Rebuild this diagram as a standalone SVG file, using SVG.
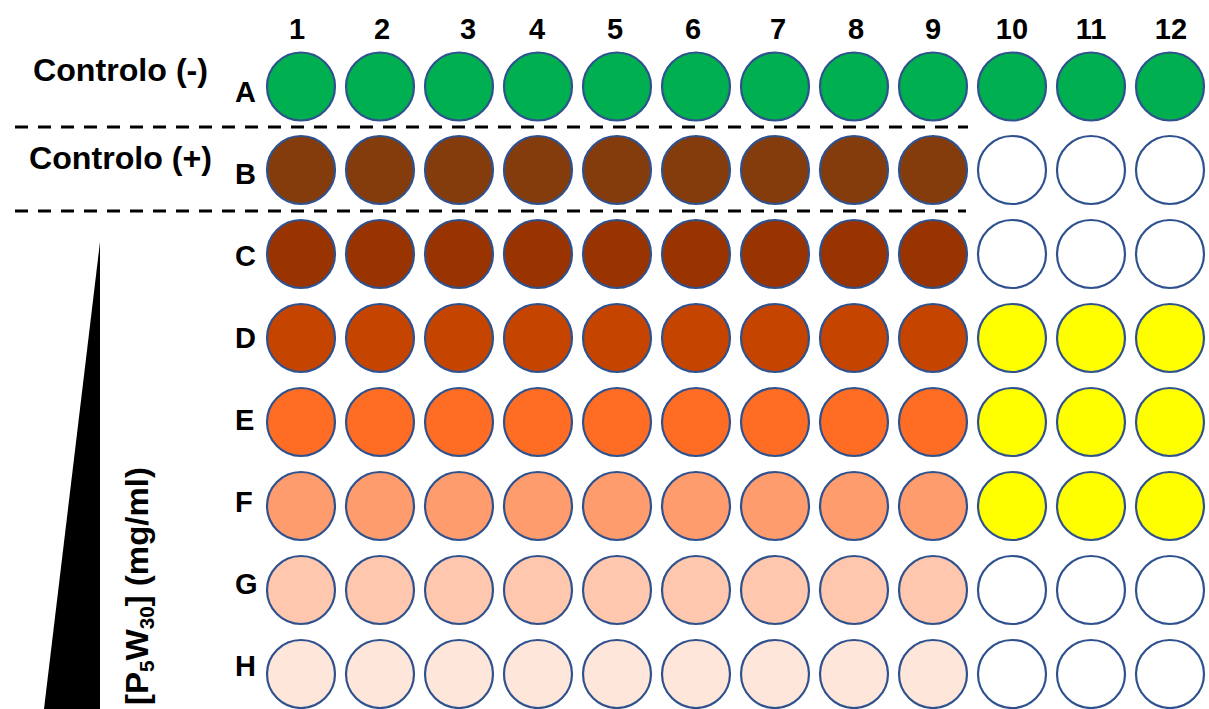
<svg xmlns="http://www.w3.org/2000/svg" width="1209" height="709" viewBox="0 0 1209 709">
<style>
text{font-family:"Liberation Sans",Arial,sans-serif;font-weight:bold;fill:#000}
.col{font-size:29px;text-anchor:middle}
.row{font-size:29px}
.ctl{font-size:32px}
circle{stroke:#2F528F;stroke-width:2.2}
.g{fill:#00B050}.b{fill:#843C0C}.c{fill:#993300}.d{fill:#C44400}.e{fill:#FF6D24}.f{fill:#FF9C6E}.gg{fill:#FFC8AE}.h{fill:#FFE6DA}.y{fill:#FFFF00}.w{fill:#FFFFFF}
.dash{stroke:#000;stroke-width:3;stroke-dasharray:13 10;fill:none}
</style>
<rect width="1209" height="709" fill="#fff"/>
<g id="labels">
<text class="col" x="297" y="39">1</text>
<text class="col" x="382" y="39">2</text>
<text class="col" x="468" y="39">3</text>
<text class="col" x="537" y="39">4</text>
<text class="col" x="615" y="39">5</text>
<text class="col" x="693" y="39">6</text>
<text class="col" x="778" y="39">7</text>
<text class="col" x="856" y="39">8</text>
<text class="col" x="933" y="39">9</text>
<text class="col" x="1012" y="39">10</text>
<text class="col" x="1091" y="39">11</text>
<text class="col" x="1171" y="39">12</text>
<text class="row" x="235" y="102">A</text>
<text class="row" x="235" y="184">B</text>
<text class="row" x="235" y="266">C</text>
<text class="row" x="235" y="348">D</text>
<text class="row" x="235" y="430">E</text>
<text class="row" x="235" y="512">F</text>
<text class="row" x="235" y="594">G</text>
<text class="row" x="235" y="676">H</text>
<text class="ctl" x="33" y="81" textLength="175" lengthAdjust="spacingAndGlyphs">Controlo (-)</text>
<text class="ctl" x="29" y="169" textLength="183" lengthAdjust="spacingAndGlyphs">Controlo (+)</text>
<text class="ctl" transform="translate(148,705) rotate(-90)" textLength="238" lengthAdjust="spacingAndGlyphs">[P<tspan font-size="20" dy="6">5</tspan><tspan dy="-6">W</tspan><tspan font-size="20" dy="6">30</tspan><tspan dy="-6">] (mg/ml)</tspan></text>
</g>
<g id="wedge"><polygon points="100,242 100,709 44,709" fill="#000"/></g>
<g id="connectors">
<line class="dash" x1="15" y1="127" x2="968" y2="127"/>
<line class="dash" x1="15" y1="211" x2="966" y2="211"/>
</g>
<g id="rowA">
<circle class="g" cx="301" cy="86.5" r="34"/><circle class="g" cx="380" cy="86.5" r="34"/><circle class="g" cx="459" cy="86.5" r="34"/><circle class="g" cx="538" cy="86.5" r="34"/><circle class="g" cx="617" cy="86.5" r="34"/><circle class="g" cx="696" cy="86.5" r="34"/><circle class="g" cx="775" cy="86.5" r="34"/><circle class="g" cx="854" cy="86.5" r="34"/><circle class="g" cx="933" cy="86.5" r="34"/><circle class="g" cx="1012" cy="86.5" r="34"/><circle class="g" cx="1091" cy="86.5" r="34"/><circle class="g" cx="1170" cy="86.5" r="34"/>
</g>
<g id="rowB">
<circle class="b" cx="301" cy="170" r="34"/><circle class="b" cx="380" cy="170" r="34"/><circle class="b" cx="459" cy="170" r="34"/><circle class="b" cx="538" cy="170" r="34"/><circle class="b" cx="617" cy="170" r="34"/><circle class="b" cx="696" cy="170" r="34"/><circle class="b" cx="775" cy="170" r="34"/><circle class="b" cx="854" cy="170" r="34"/><circle class="b" cx="933" cy="170" r="34"/><circle class="w" cx="1012" cy="170" r="34"/><circle class="w" cx="1091" cy="170" r="34"/><circle class="w" cx="1170" cy="170" r="34"/>
</g>
<g id="rowC">
<circle class="c" cx="301" cy="254" r="34"/><circle class="c" cx="380" cy="254" r="34"/><circle class="c" cx="459" cy="254" r="34"/><circle class="c" cx="538" cy="254" r="34"/><circle class="c" cx="617" cy="254" r="34"/><circle class="c" cx="696" cy="254" r="34"/><circle class="c" cx="775" cy="254" r="34"/><circle class="c" cx="854" cy="254" r="34"/><circle class="c" cx="933" cy="254" r="34"/><circle class="w" cx="1012" cy="254" r="34"/><circle class="w" cx="1091" cy="254" r="34"/><circle class="w" cx="1170" cy="254" r="34"/>
</g>
<g id="rowD">
<circle class="d" cx="301" cy="338" r="34"/><circle class="d" cx="380" cy="338" r="34"/><circle class="d" cx="459" cy="338" r="34"/><circle class="d" cx="538" cy="338" r="34"/><circle class="d" cx="617" cy="338" r="34"/><circle class="d" cx="696" cy="338" r="34"/><circle class="d" cx="775" cy="338" r="34"/><circle class="d" cx="854" cy="338" r="34"/><circle class="d" cx="933" cy="338" r="34"/><circle class="y" cx="1012" cy="338" r="34"/><circle class="y" cx="1091" cy="338" r="34"/><circle class="y" cx="1170" cy="338" r="34"/>
</g>
<g id="rowE">
<circle class="e" cx="301" cy="422" r="34"/><circle class="e" cx="380" cy="422" r="34"/><circle class="e" cx="459" cy="422" r="34"/><circle class="e" cx="538" cy="422" r="34"/><circle class="e" cx="617" cy="422" r="34"/><circle class="e" cx="696" cy="422" r="34"/><circle class="e" cx="775" cy="422" r="34"/><circle class="e" cx="854" cy="422" r="34"/><circle class="e" cx="933" cy="422" r="34"/><circle class="y" cx="1012" cy="422" r="34"/><circle class="y" cx="1091" cy="422" r="34"/><circle class="y" cx="1170" cy="422" r="34"/>
</g>
<g id="rowF">
<circle class="f" cx="301" cy="506" r="34"/><circle class="f" cx="380" cy="506" r="34"/><circle class="f" cx="459" cy="506" r="34"/><circle class="f" cx="538" cy="506" r="34"/><circle class="f" cx="617" cy="506" r="34"/><circle class="f" cx="696" cy="506" r="34"/><circle class="f" cx="775" cy="506" r="34"/><circle class="f" cx="854" cy="506" r="34"/><circle class="f" cx="933" cy="506" r="34"/><circle class="y" cx="1012" cy="506" r="34"/><circle class="y" cx="1091" cy="506" r="34"/><circle class="y" cx="1170" cy="506" r="34"/>
</g>
<g id="rowG">
<circle class="gg" cx="301" cy="590" r="34"/><circle class="gg" cx="380" cy="590" r="34"/><circle class="gg" cx="459" cy="590" r="34"/><circle class="gg" cx="538" cy="590" r="34"/><circle class="gg" cx="617" cy="590" r="34"/><circle class="gg" cx="696" cy="590" r="34"/><circle class="gg" cx="775" cy="590" r="34"/><circle class="gg" cx="854" cy="590" r="34"/><circle class="gg" cx="933" cy="590" r="34"/><circle class="w" cx="1012" cy="590" r="34"/><circle class="w" cx="1091" cy="590" r="34"/><circle class="w" cx="1170" cy="590" r="34"/>
</g>
<g id="rowH">
<circle class="h" cx="301" cy="674" r="34"/><circle class="h" cx="380" cy="674" r="34"/><circle class="h" cx="459" cy="674" r="34"/><circle class="h" cx="538" cy="674" r="34"/><circle class="h" cx="617" cy="674" r="34"/><circle class="h" cx="696" cy="674" r="34"/><circle class="h" cx="775" cy="674" r="34"/><circle class="h" cx="854" cy="674" r="34"/><circle class="h" cx="933" cy="674" r="34"/><circle class="w" cx="1012" cy="674" r="34"/><circle class="w" cx="1091" cy="674" r="34"/><circle class="w" cx="1170" cy="674" r="34"/>
</g>
</svg>
